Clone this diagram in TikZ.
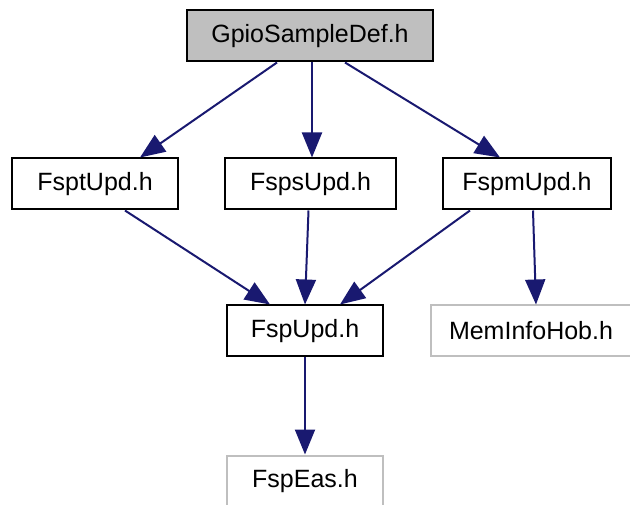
\documentclass[tikz,border=0pt]{standalone}
\usepackage{fontspec}
\setmainfont{Liberation Sans}
\usetikzlibrary{arrows.meta}
\definecolor{edgeblue}{RGB}{25,25,112}
\definecolor{boxgray}{RGB}{191,191,191}
\begin{document}
\begin{tikzpicture}[x=1pt,y=-1pt,
  file/.style={draw=black,line width=2pt,minimum height=51pt,inner sep=0pt,
    font=\fontsize{25}{30}\selectfont},
  extfile/.style={file,draw=boxgray},
  dep/.style={draw=edgeblue,line width=2pt,-{Triangle[length=25pt,width=20pt]}}
]
\useasboundingbox (0,0) rectangle (630,505);

\node[file,fill=boxgray,minimum width=246pt] (gpio) at (310,36) {GpioSampleDef.h};
\node[file,minimum width=166pt] (fsptupd) at (95,184) {FsptUpd.h};
\node[file,minimum width=171pt] (fspsupd) at (310.5,184) {FspsUpd.h};
\node[file,minimum width=168pt] (fspmupd) at (527,184) {FspmUpd.h};
\node[file,minimum width=156pt] (fspupd) at (305,331) {FspUpd.h};
\node[extfile,minimum width=200pt] (meminfohob) at (531,331) {MemInfoHob.h};
\node[extfile,minimum width=156pt] (fspeas) at (305,481) {FspEas.h};

\draw[dep] ([xshift=-33pt]gpio.south) -- ([xshift=45pt]fsptupd.north);
\draw[dep] ([xshift=2pt]gpio.south) -- ([xshift=1.5pt]fspsupd.north);
\draw[dep] ([xshift=35pt]gpio.south) -- ([xshift=-27pt]fspmupd.north);
\draw[dep] ([xshift=30pt]fsptupd.south) -- ([xshift=-35pt]fspupd.north);
\draw[dep] ([xshift=-2pt]fspsupd.south) -- (fspupd.north);
\draw[dep] ([xshift=-57pt]fspmupd.south) -- ([xshift=35pt]fspupd.north);
\draw[dep] ([xshift=6pt]fspmupd.south) -- ([xshift=5pt]meminfohob.north);
\draw[dep] (fspupd) -- (fspeas);
\end{tikzpicture}
\end{document}
